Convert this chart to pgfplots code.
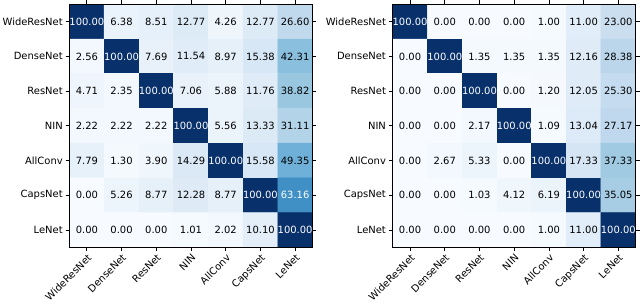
\documentclass[border=0pt]{standalone}
\usepackage{pgfplots}
\pgfplotsset{compat=1.18}
\usepackage{pgfplotstable}
\usepackage{fontspec}
\setmainfont{DejaVu Sans}

\pgfplotstableread{
x y c
0 0 100.00
1 0 6.38
2 0 8.51
3 0 12.77
4 0 4.26
5 0 12.77
6 0 26.60
0 1 2.56
1 1 100.00
2 1 7.69
3 1 11.54
4 1 8.97
5 1 15.38
6 1 42.31
0 2 4.71
1 2 2.35
2 2 100.00
3 2 7.06
4 2 5.88
5 2 11.76
6 2 38.82
0 3 2.22
1 3 2.22
2 3 2.22
3 3 100.00
4 3 5.56
5 3 13.33
6 3 31.11
0 4 7.79
1 4 1.30
2 4 3.90
3 4 14.29
4 4 100.00
5 4 15.58
6 4 49.35
0 5 0.00
1 5 5.26
2 5 8.77
3 5 12.28
4 5 8.77
5 5 100.00
6 5 63.16
0 6 0.00
1 6 0.00
2 6 0.00
3 6 1.01
4 6 2.02
5 6 10.10
6 6 100.00
}\dataA

\pgfplotstableread{
x y c
0 0 100.00
1 0 0.00
2 0 0.00
3 0 0.00
4 0 1.00
5 0 11.00
6 0 23.00
0 1 0.00
1 1 100.00
2 1 1.35
3 1 1.35
4 1 1.35
5 1 12.16
6 1 28.38
0 2 0.00
1 2 0.00
2 2 100.00
3 2 0.00
4 2 1.20
5 2 12.05
6 2 25.30
0 3 0.00
1 3 0.00
2 3 2.17
3 3 100.00
4 3 1.09
5 3 13.04
6 3 27.17
0 4 0.00
1 4 2.67
2 4 5.33
3 4 0.00
4 4 100.00
5 4 17.33
6 4 37.33
0 5 0.00
1 5 0.00
2 5 1.03
3 5 4.12
4 5 6.19
5 5 100.00
6 5 35.05
0 6 0.00
1 6 0.00
2 6 0.00
3 6 0.00
4 6 1.00
5 6 11.00
6 6 100.00
}\dataB

\pgfplotsset{
  colormap={blues}{rgb255=(247,251,255) rgb255=(222,235,247) rgb255=(198,219,239) rgb255=(158,202,225) rgb255=(107,174,214) rgb255=(66,146,198) rgb255=(33,113,181) rgb255=(8,81,156) rgb255=(8,48,107)},
  cmstyle/.style={
    width=185.5pt, height=185.5pt, scale only axis,
    xmin=-0.5, xmax=6.5, ymin=-0.5, ymax=6.5, y dir=reverse,
    point meta min=0, point meta max=100,
    colormap name=blues,
    xtick={0,...,6}, ytick={0,...,6},
    xticklabels={WideResNet,DenseNet,ResNet,NIN,AllConv,CapsNet,LeNet},
    yticklabels={WideResNet,DenseNet,ResNet,NIN,AllConv,CapsNet,LeNet},
    tick align=outside, major tick length=3pt,
    tick style={black, line width=0.6pt},
    axis line style={line width=0.6pt},
    tick label style={font=\fontsize{7.6}{8.5}\selectfont},
    xticklabel style={rotate=45, anchor=north east, inner sep=1pt},
    yticklabel style={inner sep=2pt},
    axis on top,
  },
  cellnums/.style={
    only marks, mark=*, mark size=0pt, mark options={draw=none, fill=none},
    point meta=explicit symbolic,
    nodes near coords,
    every node near coord/.append style={anchor=center, font=\fontsize{7.6}{8.5}\selectfont, inner sep=0pt, text=#1},
  },
}

\begin{document}
\begin{tikzpicture}
\begin{axis}[cmstyle, at={(0,0)}]
\addplot[matrix plot*, mesh/cols=7, point meta=explicit, draw=none] table[x=x, y=y, meta=c] {\dataA};
\addplot[cellnums=black, restrict expr to domain={\thisrow{c}}{-1:50}] table[x=x, y=y, meta=c] {\dataA};
\addplot[cellnums=white, restrict expr to domain={\thisrow{c}}{50:101}] table[x=x, y=y, meta=c] {\dataA};
\end{axis}
\begin{axis}[cmstyle, at={(246.75pt,0)}]
\addplot[matrix plot*, mesh/cols=7, point meta=explicit, draw=none] table[x=x, y=y, meta=c] {\dataB};
\addplot[cellnums=black, restrict expr to domain={\thisrow{c}}{-1:50}] table[x=x, y=y, meta=c] {\dataB};
\addplot[cellnums=white, restrict expr to domain={\thisrow{c}}{50:101}] table[x=x, y=y, meta=c] {\dataB};
\end{axis}
\end{tikzpicture}
\end{document}
